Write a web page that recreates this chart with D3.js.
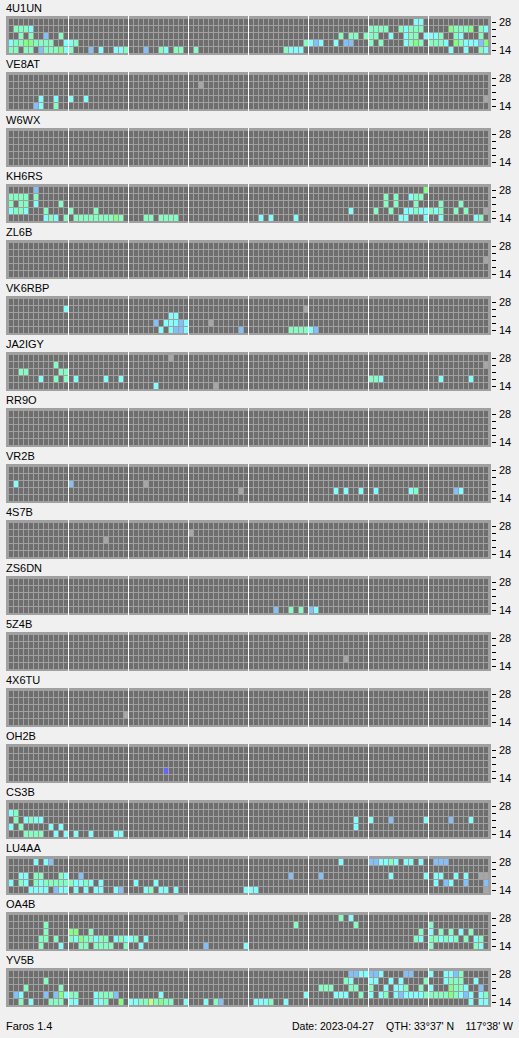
<!DOCTYPE html>
<html><head><meta charset="utf-8">
<script src="https://cdn.jsdelivr.net/npm/d3@7"></script>
<style>
html,body{margin:0;padding:0;background:#f0f0f0;}
svg{display:block;font-family:"Liberation Sans",Arial,sans-serif;}
</style></head>
<body>
<svg id="chart" width="519" height="1038"></svg>
<script>
// ---- categories ----
const stations = ["4U1UN","VE8AT","W6WX","KH6RS","ZL6B","VK6RBP","JA2IGY","RR9O","VR2B","4S7B","ZS6DN","5Z4B","4X6TU","OH2B","CS3B","LU4AA","OA4B","YV5B"];
const bands = ["28","24","21","18","14"];          // rows, top to bottom (MHz)
const labeledBands = ["28","14"];
const slotCount = 96;                               // 15-minute slots over 24 h
const slotsPerBlock = 12;                           // 3-hour blocks
// signal level codes: b weak .. y strong, x = no data, p = other
const levelCodes = ["b","c","a","g","y","x","p"];
const levelColors = ["#80c0ff","#80ffff","#80ffc0","#80ff80","#c0ff80","#a6a6a6","#6464ff"];

// ---- observations: one string per band row, "slot+code" ----
const hits_4U1UN = [
 "81c 82c",
 "1a 2a 3a 4c 72a 73a 74a 75a 78a 79c 80a 81a 82a 88g 89a 90a 91a 92g 94a 95c",
 "2a 4a 7b 10a 66a 68a 69a 71a 72a 73a 76c 79c 80a 81a 83c 84c 85c 86a 89a 90c 94a",
 "0c 1a 2a 3g 4g 5a 6a 7a 8a 11c 12c 13a 59a 60c 61b 62c 65c 67b 68b 72a 74a 79c 80a 81g 82a 84a 85a 86a 87c 89g 90a 91c 92c 93c 94b 95g",
 "0a 1a 3a 4a 6b 7a 8a 9a 10g 11c 12a 16b 18c 21c 22c 23a 27b 30a 31c 33a 34a 37a 55a 56c 57c 58c 88c 91c 94a 95c"];
const hits_VE8AT = ["", "38x", "", "6c 9c 12c 15c 95x", "5b 6c 9a"];
const hits_W6WX = ["", "", "", "", ""];
const hits_KH6RS = [
 "5b 83g",
 "0a 1a 2a 3a 5a 75a 77a 80c 81a 82a",
 "0a 2a 3a 5c 10a 75a 77a 81a 86a 90a",
 "0c 1a 2a 3c 7a 12a 17a 68c 73a 76a 79c 80c 81a 82c 83c 84a 85c 86a 89a 91a 95x",
 "7c 8a 9c 11a 13a 14a 15a 16a 17a 18a 19a 20a 21g 22a 27a 28a 30a 31a 32a 33a 50c 52c 57c 78c 79c 83c 86c 93c 94a"];
const hits_ZL6B = ["", "", "95x", "", ""];
const hits_VK6RBP = [
 "",
 "11c 59x",
 "32c 33c",
 "29b 31c 32c 33c 34b 35c 40x",
 "30c 32c 33b 34b 35c 46b 56a 57a 58a 59a 60c 61b"];
const hits_JA2IGY = [
 "32x",
 "9a 95x",
 "2a 3a 10a 11a",
 "6c 9a 11a 13c 19c 22c 72a 73a 74c 86c 92c",
 "29c 41x"];
const hits_RR9O = ["", "", "", "", ""];
const hits_VR2B = ["", "", "1c 12b 27x", "46x 65c 67c 70c 73c 80c 81a 89b 90c", ""];
const hits_4S7B = ["", "36x", "19x", "", ""];
const hits_ZS6DN = ["", "", "", "", "53b 56a 58a 60b 61c"];
const hits_5Z4B = ["", "", "", "67x", ""];
const hits_4X6TU = ["", "", "", "23x", ""];
const hits_OH2B = ["", "", "", "31p", ""];
const hits_CS3B = [
 "",
 "0c 1a",
 "1a 3c 4a 5c 6c 69c 72c 76b 83c 88b 92c",
 "0c 2a 8c 10c 69c",
 "3a 4a 5a 6a 9c 11c 13c 16c 21c 22c"];
const hits_LU4AA = [
 "5c 7c 8b 66c 72b 73b 74c 75c 76a 77c 79c 80c 82c 85b 86b 87b",
 "",
 "2c 3c 5a 6a 10a 11c 14b 56b 62b 76c 83c 85c 86c 89c 91c 94x 95x",
 "0c 2a 3c 5a 6c 7a 8a 9a 10a 11a 12a 13c 14c 15a 16c 18c 25c 29c 85c 87b 88c 91b 95b",
 "4c 5c 6c 7c 9b 10c 11c 13c 15c 17c 18c 21c 22b 27c 28a 30c 31c 33c 47c 48c 49c 95x"];
const hits_OA4B = [
 "34x 66a 68c",
 "7a 57a 69a 84a",
 "7a 12g 13g 16a 82a 84c 86a 88a 90c 92a",
 "6a 7a 9a 12a 13c 14g 15a 16a 17c 18a 19a 21c 22a 23c 24c 25a 27c 81a 82c 84a 85a 86c 87a 88c 89a 91a 93c 94a",
 "6a 10c 14a 15a 17a 18a 19a 20a 23a 26c 39b 47c 84a 93a 94c"];
const hits_YV5B = [
 "68b 69b 70c 71c 72b 73b 74c 79b 80b 84c 87c 88c 89b 90a",
 "7a 67a 68c 72c 73c 76c 78c 83a 87c 88a 89a 90a 93c",
 "3a 10a 62a 63a 64a 68a 69a 72a 75c 77c 78c 79a 82a 84c 88g 89a 90a 91c 94b",
 "1b 2c 7b 9b 10g 11c 12a 13a 17c 18a 19a 20a 21b 30c 59c 65c 66c 67c 70a 72c 74c 75a 77c 78b 79c 80c 81c 82c 83a 84a 85a 86a 87a 88g 89a 90c 91b 92c 94c 95a",
 "2a 4c 8a 9a 10a 12c 13c 17c 18c 19a 22g 24c 25c 26a 27a 28y 29a 30g 31a 32a 35c 39c 41a 42b 49c 50c 51c 52a 55c 92c 94c 95c"];

const footerLeft = "Faros 1.4";
const footerDate = "Date: 2023-04-27";
const footerQth = "QTH: 33°37' N";
const footerLon = "117°38' W";

const allHits = [hits_4U1UN,hits_VE8AT,hits_W6WX,hits_KH6RS,hits_ZL6B,hits_VK6RBP,hits_JA2IGY,hits_RR9O,hits_VR2B,hits_4S7B,hits_ZS6DN,hits_5Z4B,hits_4X6TU,hits_OH2B,hits_CS3B,hits_LU4AA,hits_OA4B,hits_YV5B];

// ---- layout ----
const svg = d3.select("#chart");
const panelTop0 = 16, panelStep = 56, panelH = 39;
const panelX = 6, panelW = 485;

const slots = d3.range(slotCount);
const x = d3.scaleBand().domain(slots).range([9, 9 + 5*slotCount - 1]).paddingInner(0.2).paddingOuter(0);
const y = d3.scaleBand().domain(bands).range([3, 37]).paddingInner(1/7).paddingOuter(0);
const color = d3.scaleOrdinal().domain(levelCodes).range(levelColors);
const panelY = d3.scaleBand().domain(stations).range([panelTop0, panelTop0 + panelStep*stations.length]).padding(0);

function parseRow(str, band){
  return str.trim()==="" ? [] : str.trim().split(/\s+/).map(t => ({slot:+t.slice(0,-1), code:t.slice(-1), band}));
}

stations.forEach((name, i) => {
  const g = svg.append("g").attr("transform", `translate(0,${panelY(name)})`);
  g.append("text").attr("x", 6).attr("y", -4).attr("font-size", 11).attr("fill", "#000").text(name);
  g.append("rect").attr("x", panelX).attr("y", 0).attr("width", panelW).attr("height", panelH).attr("fill", "#a0a0a0");
  // empty background cells
  const grid = [];
  bands.forEach(b => slots.forEach(s => grid.push({slot:s, band:b})));
  g.append("g").selectAll("rect").data(grid).join("rect")
    .attr("x", d => x(d.slot)).attr("y", d => y(d.band))
    .attr("width", x.bandwidth()).attr("height", y.bandwidth())
    .attr("fill", "#6e6e6e");
  // block separators
  const seps = d3.range(1, slotCount/slotsPerBlock).map(k => k*slotsPerBlock);
  g.append("g").selectAll("rect").data(seps).join("rect")
    .attr("x", d => x(d) - 1).attr("y", 0).attr("width", 1).attr("height", panelH)
    .attr("fill", "#ffffff");
  // observations
  const obs = allHits[i].flatMap((row, r) => parseRow(row, bands[r]));
  g.append("g").selectAll("rect").data(obs).join("rect")
    .attr("x", d => x(d.slot)).attr("y", d => y(d.band))
    .attr("width", x.bandwidth()).attr("height", y.bandwidth())
    .attr("fill", d => color(d.code));
  // band axis
  const ax = g.append("g").attr("transform", "translate(492,0)")
    .call(d3.axisRight(y).tickSize(4).tickPadding(3).tickFormat(b => labeledBands.includes(b) ? b : ""));
  ax.select(".domain").remove();
  ax.selectAll("line").attr("stroke", "#000").attr("transform", "translate(0,0.5)");
  ax.selectAll("text").attr("font-size", 11).attr("font-family", "Liberation Sans, Arial, sans-serif").attr("fill", "#000").attr("dy", "0.4em");
});

// footer
const fy = 1030;
svg.append("text").attr("x", 6).attr("y", fy).attr("font-size", 11).text(footerLeft);
svg.append("text").attr("x", 292).attr("y", fy).attr("font-size", 10.5).text(footerDate);
svg.append("text").attr("x", 386).attr("y", fy).attr("font-size", 10.5).text(footerQth);
svg.append("text").attr("x", 513).attr("y", fy).attr("font-size", 10.5).attr("text-anchor", "end").text(footerLon);
</script>
</body></html>
